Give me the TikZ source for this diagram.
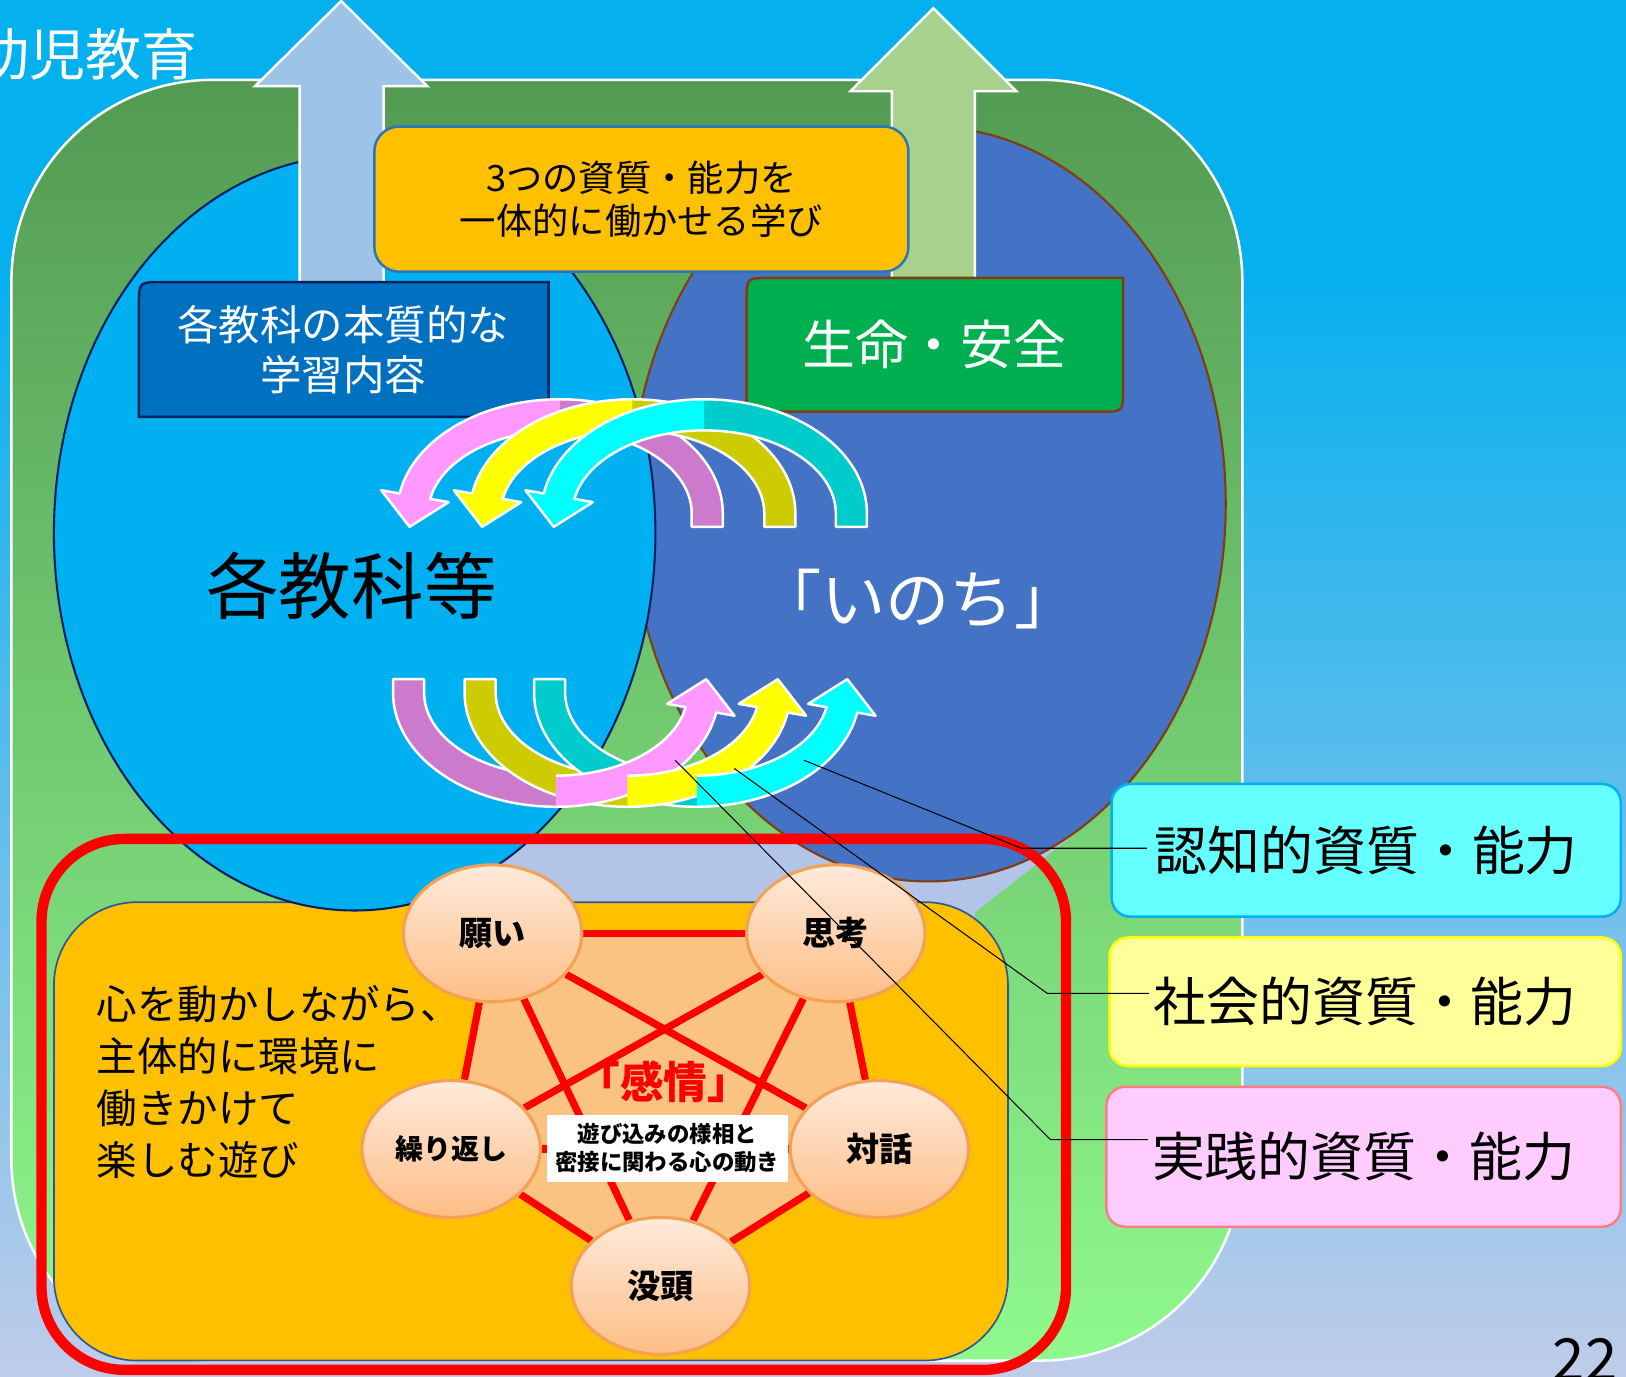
\documentclass[tikz,border=0pt]{standalone}
\usepackage{fontspec}
\setmainfont{Noto Sans CJK JP}
\usetikzlibrary{calc,shapes.geometric}
\pgfdeclarelayer{back}\pgfdeclarelayer{mid}\pgfsetlayers{back,mid,main}
\definecolor{bgtop}{HTML}{05B0EE}
\definecolor{bgbot}{HTML}{BFCCE9}
\definecolor{grtop}{HTML}{539A53}
\definecolor{grbot}{HTML}{8FF98D}
\definecolor{cyanell}{HTML}{00B0F0}
\definecolor{blueell}{HTML}{4472C4}
\definecolor{navyb}{HTML}{002060}
\definecolor{brownb}{HTML}{843C0C}
\definecolor{arrowblue}{HTML}{9DC3E6}
\definecolor{arrowgreen}{HTML}{A9D18E}
\definecolor{orangebox}{HTML}{FFC000}
\definecolor{orangeborder}{HTML}{2E75B6}
\definecolor{playborder}{HTML}{2F5597}
\definecolor{darkbluebox}{HTML}{0070C0}
\definecolor{greenbox}{HTML}{00B050}
\definecolor{lavend}{HTML}{B2C5E8}
\definecolor{pentafill}{HTML}{FAC382}
\definecolor{peachtop}{HTML}{FFEADB}
\definecolor{peachbot}{HTML}{FDBE86}
\definecolor{peachborder}{HTML}{F2A155}
\definecolor{pinkL}{HTML}{FF99FF}
\definecolor{pinkD}{HTML}{CC7ACC}
\definecolor{yelL}{HTML}{FFFF00}
\definecolor{yelD}{HTML}{CCCC00}
\definecolor{cyaL}{HTML}{00FFFF}
\definecolor{cyaD}{HTML}{00CCCC}
\definecolor{boxAfill}{HTML}{66FFFF}
\definecolor{boxAborder}{HTML}{00B0F0}
\definecolor{boxBfill}{HTML}{FFFF99}
\definecolor{boxBborder}{HTML}{FFFF00}
\definecolor{boxCfill}{HTML}{FFCCFF}
\definecolor{boxCborder}{HTML}{FF7C80}

% dark (tail) half of a curved band arrow
\newcommand{\darkhalf}[4]{%
\begin{scope}[rotate around={#4:(#1,#2)}]
\def\acx{#1}\def\acy{#2}%
\fill[#3] plot[domain=90:0,samples=40] ({\acx+157*cos(\x)},{\acy-110*sin(\x)}) -- ({\acx+157},{\acy+13}) -- ({\acx+127},{\acy+13}) -- plot[domain=0:90,samples=40] ({\acx+127*cos(\x)},{\acy-80*sin(\x)}) -- cycle;
\draw[arrowout] plot[domain=90:0,samples=40] ({\acx+157*cos(\x)},{\acy-110*sin(\x)}) -- ({\acx+157},{\acy+13}) -- ({\acx+127},{\acy+13}) -- plot[domain=0:90,samples=40] ({\acx+127*cos(\x)},{\acy-80*sin(\x)});
\end{scope}}
% light (head) half of a curved band arrow
\newcommand{\lighthalf}[4]{%
\begin{scope}[rotate around={#4:(#1,#2)}]
\def\acx{#1}\def\acy{#2}%
\coordinate (hB) at ({\acx+142*cos(170)},{\acy-95*sin(170)});
\coordinate (hPo) at ({\acx+157*cos(170)},{\acy-110*sin(170)});
\coordinate (hPi) at ({\acx+127*cos(170)},{\acy-80*sin(170)});
\coordinate (hHo) at ($(hB)!2.2!(hPo)$);
\coordinate (hHi) at ($(hB)!2.2!(hPi)$);
\coordinate (hT) at ($(hB)!15pt!90:(hPo)$);
\fill[#3] plot[domain=90:170,samples=40] ({\acx+157*cos(\x)},{\acy-110*sin(\x)}) -- (hHo) -- (hT) -- (hHi) -- plot[domain=170:90,samples=40] ({\acx+127*cos(\x)},{\acy-80*sin(\x)}) -- cycle;
\draw[arrowout] plot[domain=90:170,samples=40] ({\acx+157*cos(\x)},{\acy-110*sin(\x)}) -- (hHo) -- (hT) -- (hHi) -- plot[domain=170:90,samples=40] ({\acx+127*cos(\x)},{\acy-80*sin(\x)});
\end{scope}}

\begin{document}
\begin{tikzpicture}[x=0.5pt,y=-0.5pt,
  arrowout/.style={draw=white, line width=1.2pt, line join=round},
  circ/.style={ellipse, draw=peachborder, line width=1.5pt, top color=peachtop, bottom color=peachbot, minimum width=86pt, minimum height=66pt, inner sep=0pt, font=\bfseries\fontsize{16}{16}\selectfont},
  redline/.style={draw=red, line width=3.5pt},
  capbox/.style={draw, line width=1.2pt, rounded corners=9pt, inner sep=0pt, font=\fontsize{25.5}{25.5}\selectfont},
  callout/.style={draw=black, line width=0.5pt},
  uparrow/.style={draw=white, line width=1.2pt, line join=miter}
]
\useasboundingbox (0,0) rectangle (1568,1327);
\clip (0,0) rectangle (1568,1327);

\begin{pgfonlayer}{back}
% background
\fill[bgtop] (0,0) rectangle (1568,262);
\shade[top color=bgtop, bottom color=bgbot] (0,260) rectangle (1568,1327);
% big green frame
\draw[white, line width=1.2pt, top color=grtop, bottom color=grbot, rounded corners=97pt] (11,77) rectangle (1198,1312);
% lavender band
\fill[lavend] (300,810) -- (960,810) -- (1056,789) -- (940,880) -- (940,890) -- (300,890) -- cycle;
% play area
\draw[draw=playborder, line width=0.8pt, fill=orangebox, rounded corners=40pt] (52,870) rectangle (972,1312);
% ellipses
\draw[brownb, line width=1pt, fill=blueell] (895,486) ellipse [x radius=287, y radius=364];
\draw[navyb, line width=1pt, fill=cyanell] (342,514) ellipse [x radius=290, y radius=364];
% upward arrows
\draw[uparrow, fill=arrowblue] (289,300) -- (289,83) -- (246,83) -- (329,1) -- (412,83) -- (370,83) -- (370,300) -- cycle;
\draw[uparrow, fill=arrowgreen] (860,300) -- (860,88) -- (820,88) -- (900,8) -- (980,88) -- (940,88) -- (940,300) -- cycle;
% boxes
\node[draw=orangeborder, line width=1.2pt, fill=orangebox, rounded corners=12pt, minimum width=257.5pt, minimum height=70pt, align=center, font=\fontsize{17.5}{21}\selectfont] (learn) at (618.5,192) {3つの資質・能力を\\一体的に働かせる学び};
\draw[draw=navyb, line width=1.2pt, fill=darkbluebox] (134,294) .. controls (134,272) .. (156,272) -- (529,272) -- (529,380) .. controls (529,402) .. (507,402) -- (134,402) -- cycle;
\node[text=white, font=\fontsize{20}{24}\selectfont, align=center] (subj) at (331,337) {各教科の本質的な\\学習内容};
\draw[draw=brownb, line width=1.2pt, fill=greenbox] (720,290) .. controls (720,268) .. (742,268) -- (1083,268) -- (1083,375) .. controls (1083,397) .. (1061,397) -- (720,397) -- cycle;
\node[text=white, font=\fontsize{25.5}{25.5}\selectfont] (life) at (901,332) {生命・安全};
% curved arrows, top
\darkhalf{540}{495}{pinkD}{0}
\darkhalf{610}{495}{yelD}{0}
\darkhalf{679}{495}{cyaD}{0}
\lighthalf{540}{495}{pinkL}{0}
\lighthalf{610}{495}{yelL}{0}
\lighthalf{679}{495}{cyaL}{0}
% curved arrows, bottom
\darkhalf{536}{668}{pinkD}{180}
\darkhalf{605}{668}{yelD}{180}
\darkhalf{672}{668}{cyaD}{180}
\lighthalf{536}{668}{pinkL}{180}
\lighthalf{605}{668}{yelL}{180}
\lighthalf{672}{668}{cyaL}{180}
% big labels
\node[text=black, font=\fontsize{35}{35}\selectfont] (subjects) at (339,565) {各教科等};
\node[text=white, font=\fontsize{31}{31}\selectfont] (inochi) at (885,578) {「いのち」};
\end{pgfonlayer}

% pentagon circles
\node[circ] (nA) at (475,900) {願い};
\node[circ] (nB) at (806,900) {思考};
\node[circ, font=\bfseries\fontsize{13.5}{13.5}\selectfont] (nC) at (435,1108) {繰り返し};
\node[circ] (nD) at (848,1108) {対話};
\node[circ] (nE) at (637,1240) {没頭};
\begin{pgfonlayer}{mid}
\fill[pentafill] (nA.center) -- (nB.center) -- (nD.center) -- (nE.center) -- (nC.center) -- cycle;
\draw[redline] (nA) -- (nB);
\draw[redline] (nB) -- (nD);
\draw[redline] (nD) -- (nE);
\draw[redline] (nE) -- (nC);
\draw[redline] (nC) -- (nA);
\draw[redline] (nA) -- (nD);
\draw[redline] (nA) -- (nE);
\draw[redline] (nB) -- (nC);
\draw[redline] (nB) -- (nE);
\draw[redline] (nC) -- (nD);
\end{pgfonlayer}
\node[text=red, font=\bfseries\fontsize{21}{21}\selectfont] (emo) at (640,1043) {「感情」};
\node[fill=white, minimum width=116.5pt, minimum height=32.5pt, inner sep=0pt, align=center, font=\bfseries\fontsize{10.8}{13.5}\selectfont] (desc) at (643.5,1107.5) {遊び込みの様相と\\密接に関わる心の動き};
\node[anchor=north west, align=left, inner sep=0pt, font=\fontsize{19.5}{25}\selectfont] (play) at (93,950) {心を動かしながら、\\主体的に環境に\\働きかけて\\楽しむ遊び};

% red frame
\draw[red, line width=5pt, rounded corners=40pt] (40,809) rectangle (1028,1321);

% competence boxes
\node[capbox, draw=boxAborder, fill=boxAfill, minimum width=245.5pt, minimum height=64pt] (cog) at (1317.5,820) {認知的資質・能力};
\node[capbox, draw=boxBborder, fill=boxBfill, minimum width=246.5pt, minimum height=62pt] (soc) at (1316.5,966) {社会的資質・能力};
\node[capbox, draw=boxCborder, fill=boxCfill, minimum width=248pt, minimum height=67.5pt] (prac) at (1315,1115.5) {実践的資質・能力};

% callout lines
\coordinate (c1) at (775,733);
\coordinate (k1) at (985,818);
\coordinate (e1) at (1106,818);
\coordinate (c2) at (708,741);
\coordinate (k2) at (1010,958);
\coordinate (e2) at (1108,958);
\coordinate (c3) at (651,733);
\coordinate (k3) at (1013,1099);
\coordinate (e3) at (1107,1099);
\draw[callout] (c1) -- (k1) -- (e1);
\draw[callout] (c2) -- (k2) -- (e2);
\draw[callout] (c3) -- (k3) -- (e3);

% title and page number
\node[anchor=west, inner sep=0pt, text=white, font=\fontsize{27}{27}\selectfont] (title) at (-26,52) {幼児教育};
\node[anchor=north west, inner sep=0pt, text=black, font=\fontsize{28}{28}\selectfont] (pg) at (1497,1290) {22};
\end{tikzpicture}
\end{document}
